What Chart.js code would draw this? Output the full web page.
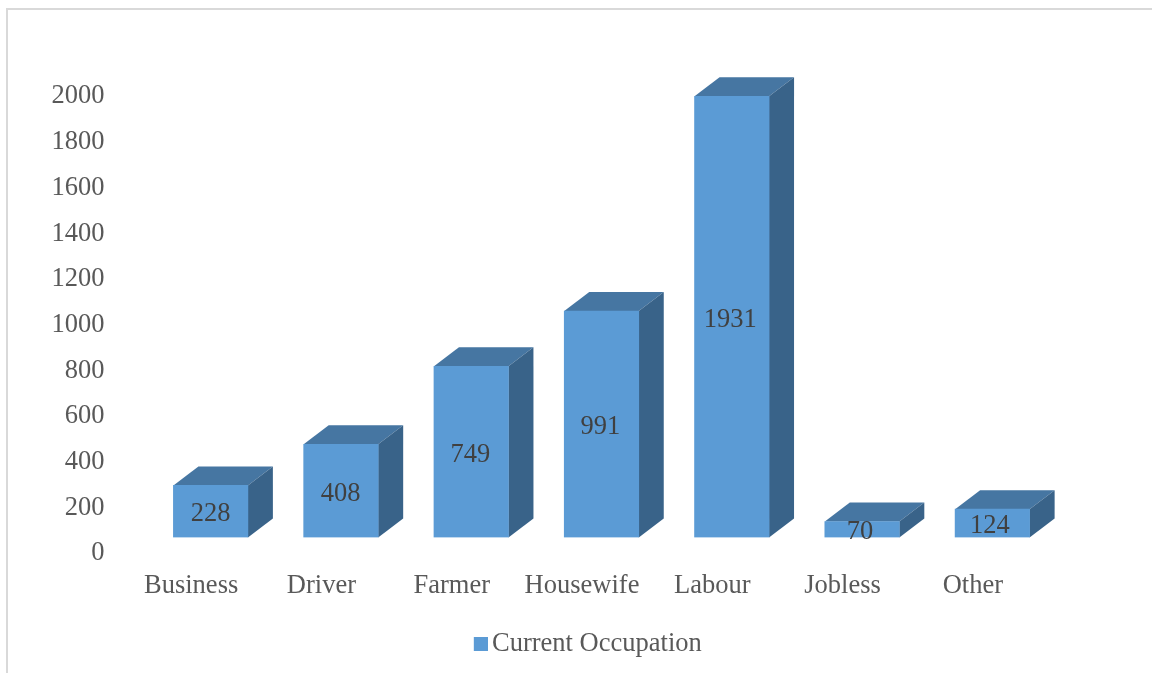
<!DOCTYPE html>
<html>
<head>
<meta charset="utf-8">
<title>Current Occupation</title>
<script src="https://cdn.jsdelivr.net/npm/chart.js@4/dist/chart.umd.min.js"></script>
<style>
  html, body { margin: 0; padding: 0; background: #fff; overflow: hidden; }
  #frame { position: absolute; left: 6px; top: 8px; width: 1200px; height: 700px;
    border-left: 2px solid #d9d9d9; border-top: 2px solid #d9d9d9; }
  canvas { position: absolute; left: 0; top: 0; }
</style>
</head>
<body>
<div id="frame"></div>
<canvas id="chart" width="1152" height="673"></canvas>
<script>
  const categories = ['Business', 'Driver', 'Farmer', 'Housewife', 'Labour', 'Jobless', 'Other'];
  const occupationCounts = [228, 408, 749, 991, 1931, 70, 124];
  const seriesName = 'Current Occupation';

  const FONT = '"Liberation Serif", "Times New Roman", serif';
  const FONT_SIZE = 26.5;
  const DEPTH_X = 25;
  const DEPTH_Y = 19;
  const BAR_BLUE = '#5b9bd5';

  function fillPoly(ctx, pts, color) {
    ctx.fillStyle = color;
    ctx.beginPath();
    pts.forEach(([x, y], i) => (i ? ctx.lineTo(x, y) : ctx.moveTo(x, y)));
    ctx.closePath();
    ctx.fill();
  }

  // Legend swatch: square pushed to the right of its canvas so it sits close to the text
  const swatch = document.createElement('canvas');
  swatch.width = 18;
  swatch.height = 14;
  const swatchCtx = swatch.getContext('2d');
  swatchCtx.fillStyle = BAR_BLUE;
  swatchCtx.fillRect(4, 0, 14, 14);

  // Top and side faces of each bar, worked out from the bar element itself
  const box3d = {
    id: 'box3d',
    afterLayout(chart) {
      // the legend sits right of the centre of the space left for it
      chart.legend.left += 38.75;
      chart.legend.right += 38.75;
    },
    beforeDatasetsDraw(chart) {
      const ctx = chart.ctx;
      chart.getDatasetMeta(0).data.forEach((bar) => {
        const l = bar.x - bar.width / 2;
        const r = bar.x + bar.width / 2;
        fillPoly(ctx, [[l, bar.y], [l + DEPTH_X, bar.y - DEPTH_Y], [r + DEPTH_X, bar.y - DEPTH_Y], [r, bar.y]], '#4676a2');
        fillPoly(ctx, [[r, bar.y], [r + DEPTH_X, bar.y - DEPTH_Y], [r + DEPTH_X, bar.base - DEPTH_Y], [r, bar.base]], '#396389');
      });
    },
    afterDatasetsDraw(chart) {
      const ctx = chart.ctx;
      ctx.save();
      ctx.font = `${FONT_SIZE}px ${FONT}`;
      ctx.fillStyle = '#404040';
      ctx.textAlign = 'center';
      ctx.textBaseline = 'middle';
      chart.getDatasetMeta(0).data.forEach((bar, i) => {
        ctx.fillText(String(occupationCounts[i]), bar.x - i * 0.4, (bar.y + bar.base) / 2 + 3);
      });
      ctx.restore();
    },
  };

  new Chart(document.getElementById('chart'), {
    type: 'bar',
    data: {
      labels: categories,
      datasets: [{
        label: seriesName,
        data: occupationCounts,
        backgroundColor: BAR_BLUE,
        borderWidth: 0,
        barThickness: 74.5,
      }],
    },
    plugins: [box3d],
    options: {
      responsive: false,
      animation: false,
      layout: { padding: { left: 45.5, right: 94.5, top: 80.5, bottom: 6 } },
      font: { family: FONT, size: FONT_SIZE },
      plugins: {
        tooltip: { enabled: false },
        legend: {
          position: 'bottom',
          labels: {
            usePointStyle: true,
            pointStyle: swatch,
            boxWidth: 0.01,
            boxHeight: 14,
            color: '#595959',
            font: { family: FONT, size: FONT_SIZE },
          },
        },
      },
      scales: {
        x: {
          grid: { display: false },
          border: { display: false },
          afterFit(scale) { scale.height = 83; },
          ticks: {
            color: '#595959',
            font: { family: FONT, size: FONT_SIZE },
            labelOffset: -19.5,
            padding: 24.5,
            maxRotation: 0,
            autoSkip: false,
          },
        },
        y: {
          min: 0,
          max: 2000,
          grid: { display: false },
          border: { display: false },
          afterFit(scale) { scale.width = 100; },
          ticks: {
            stepSize: 200,
            color: '#595959',
            font: { family: FONT, size: FONT_SIZE },
            labelOffset: 16,
            padding: 33,
            callback: (value) => String(value),
          },
        },
      },
    },
  });
</script>
</body>
</html>
